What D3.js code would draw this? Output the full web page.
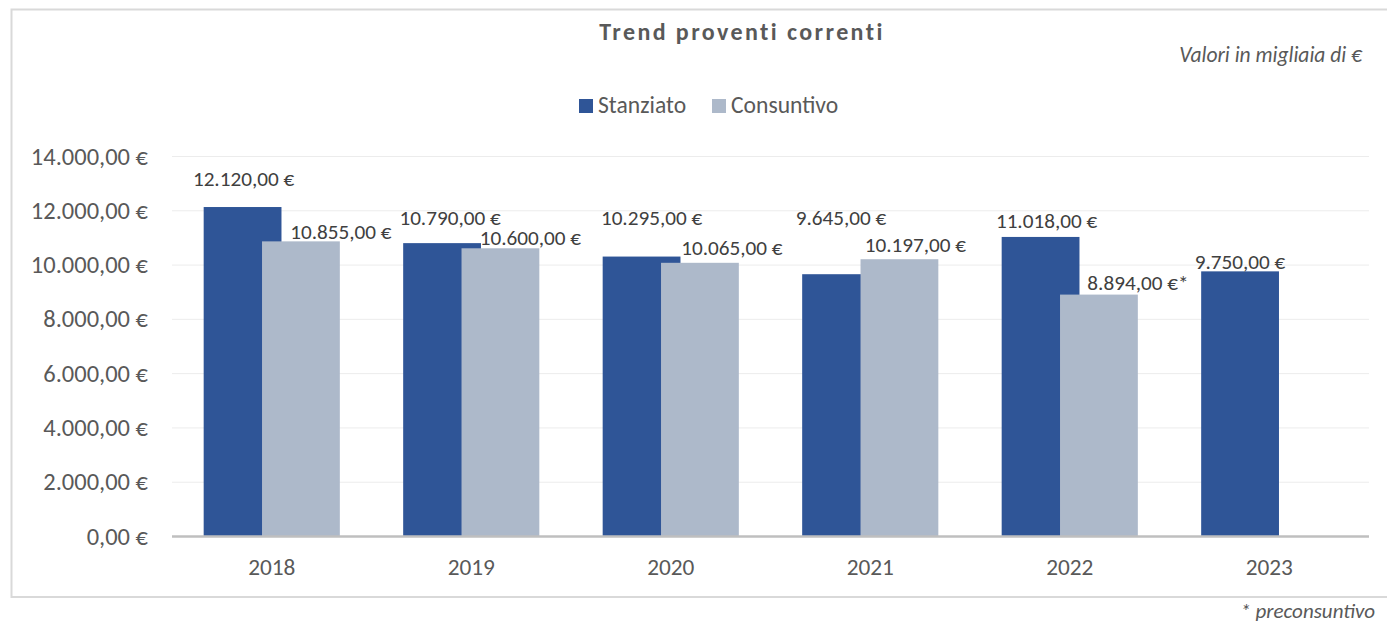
<!DOCTYPE html>
<html>
<head>
<meta charset="utf-8">
<script src="https://cdn.jsdelivr.net/npm/d3@7"></script>
<style>
  body { margin: 0; background: #fff; }
  svg { display: block; font-family: Carlito, "Open Sans", "Noto Sans", sans-serif; }
  .grid line { stroke: #ececec; stroke-width: 1; }
  .tick-label { fill: #595959; font-size: 24.5px; }
  .cat-label { fill: #595959; font-size: 23.3px; }
  .data-label { fill: #404040; font-size: 21.2px; }
  .legend-label { fill: #595959; font-size: 23.6px; }
</style>
</head>
<body>
<div id="chart"></div>
<script>
// --- data ---
const years = ["2018", "2019", "2020", "2021", "2022", "2023"];
const stanziato = [12120, 10790, 10295, 9645, 11018, 9750];
const consuntivo = [10855, 10600, 10065, 10197, 8894, null];
const consuntivoSuffix = ["", "", "", "", "*", ""];
const yTicks = [0, 2000, 4000, 6000, 8000, 10000, 12000, 14000];
const seriesNames = ["Stanziato", "Consuntivo"];

// label nudges (the labels were moved by hand in the original)
const nudgeStanziato = [[1, -18], [8, -16], [10, -29], [0, -47], [6, -6], [0, 0]];
const nudgeConsuntivo = [[40, 0], [30, -1], [32, -5], [16, -5], [39, -2], [0, 0]];

const colors = { stanziato: "#2F5597", consuntivo: "#ADB9CA", text: "#595959" };

const width = 1387, height = 624;
const plot = { left: 172, right: 1369, top: 156, bottom: 536 };

const it = d3.formatLocale({ decimal: ",", thousands: ".", grouping: [3], currency: ["", " €"] });
const fmt = v => it.format(",.2f")(v) + " €";

const svg = d3.select("#chart").append("svg")
    .attr("width", width)
    .attr("height", height);

// chart border
svg.append("rect")
    .attr("x", 11.5).attr("y", 9.5)
    .attr("width", 1400).attr("height", 587.5)
    .attr("fill", "none")
    .attr("stroke", "#d9d9d9")
    .attr("stroke-width", 2);

const x = d3.scaleBand().domain(years).range([plot.left, plot.right]).padding(0);
const y = d3.scaleLinear().domain([0, 14000]).range([plot.bottom, plot.top]);

const barW = x.bandwidth() * 0.39;
const groupW = barW * 2 - barW * 0.25;

// gridlines
svg.append("g").attr("class", "grid")
    .selectAll("line")
    .data(yTicks.filter(d => d > 0))
    .enter().append("line")
    .attr("x1", plot.left).attr("x2", plot.right)
    .attr("y1", d => y(d) + 0.5).attr("y2", d => y(d) + 0.5);

// y tick labels
svg.append("g")
    .selectAll("text")
    .data(yTicks)
    .enter().append("text")
    .attr("class", "tick-label")
    .attr("x", 148)
    .attr("y", d => y(d))
    .attr("dy", "0.35em")
    .attr("text-anchor", "end")
    .text(d => fmt(d));

// bars
const center = yr => x(yr) + x.bandwidth() / 2;
const xStanz = yr => center(yr) - groupW / 2;
const xCons = yr => center(yr) + groupW / 2 - barW;

svg.append("g")
    .selectAll("rect")
    .data(years)
    .enter().append("rect")
    .attr("x", d => xStanz(d))
    .attr("y", (d, i) => y(stanziato[i]))
    .attr("width", barW)
    .attr("height", (d, i) => y(0) - y(stanziato[i]))
    .attr("fill", colors.stanziato);

svg.append("g")
    .selectAll("rect")
    .data(years.filter((d, i) => consuntivo[i] != null))
    .enter().append("rect")
    .attr("x", d => xCons(d))
    .attr("y", d => y(consuntivo[years.indexOf(d)]))
    .attr("width", barW)
    .attr("height", d => y(0) - y(consuntivo[years.indexOf(d)]))
    .attr("fill", colors.consuntivo);

// axis baseline
svg.append("line")
    .attr("x1", plot.left).attr("x2", plot.right)
    .attr("y1", y(0) + 0.5).attr("y2", y(0) + 0.5)
    .attr("stroke", "#bfbfbf")
    .attr("stroke-width", 2.5);

// category labels
svg.append("g")
    .selectAll("text")
    .data(years)
    .enter().append("text")
    .attr("class", "cat-label")
    .attr("x", d => center(d))
    .attr("y", 567)
    .attr("dy", "0.35em")
    .attr("text-anchor", "middle")
    .text(d => d);

// data labels
svg.append("g")
    .selectAll("text")
    .data(years)
    .enter().append("text")
    .attr("class", "data-label")
    .attr("x", (d, i) => xStanz(d) + barW / 2 + nudgeStanziato[i][0])
    .attr("y", (d, i) => y(stanziato[i]) - 10 + nudgeStanziato[i][1])
    .attr("dy", "0.35em")
    .attr("text-anchor", "middle")
    .text((d, i) => fmt(stanziato[i]));

svg.append("g")
    .selectAll("text")
    .data(years.filter((d, i) => consuntivo[i] != null))
    .enter().append("text")
    .attr("class", "data-label")
    .attr("x", d => { const i = years.indexOf(d); return xCons(d) + barW / 2 + nudgeConsuntivo[i][0]; })
    .attr("y", d => { const i = years.indexOf(d); return y(consuntivo[i]) - 10 + nudgeConsuntivo[i][1]; })
    .attr("dy", "0.35em")
    .attr("text-anchor", "middle")
    .text(d => { const i = years.indexOf(d); return fmt(consuntivo[i]) + consuntivoSuffix[i]; });

// title
svg.append("text")
    .attr("x", 742).attr("y", 32)
    .attr("dy", "0.35em")
    .attr("text-anchor", "middle")
    .attr("fill", colors.text)
    .style("font-size", "24px")
    .style("font-weight", "bold")
    .style("letter-spacing", "2.4px")
    .text("Trend proventi correnti");

svg.append("text")
    .attr("x", 1362).attr("y", 54)
    .attr("dy", "0.35em")
    .attr("text-anchor", "end")
    .attr("fill", colors.text)
    .style("font-size", "21.5px")
    .style("font-style", "italic")
    .text("Valori in migliaia di €");

// legend
const legendItems = [
    { name: seriesNames[0], color: colors.stanziato, x: 579 },
    { name: seriesNames[1], color: colors.consuntivo, x: 712 }
];
const legend = svg.append("g").selectAll("g")
    .data(legendItems)
    .enter().append("g")
    .attr("transform", d => `translate(${d.x}, 99)`);
legend.append("rect")
    .attr("width", 14).attr("height", 14)
    .attr("fill", d => d.color);
legend.append("text")
    .attr("class", "legend-label")
    .attr("x", 19).attr("y", 6)
    .attr("dy", "0.35em")
    .text(d => d.name);

// footnote
svg.append("text")
    .attr("x", 1375).attr("y", 611)
    .attr("dy", "0.35em")
    .attr("text-anchor", "end")
    .attr("fill", colors.text)
    .style("font-size", "21px")
    .style("font-style", "italic")
    .text("* preconsuntivo");
</script>
</body>
</html>
